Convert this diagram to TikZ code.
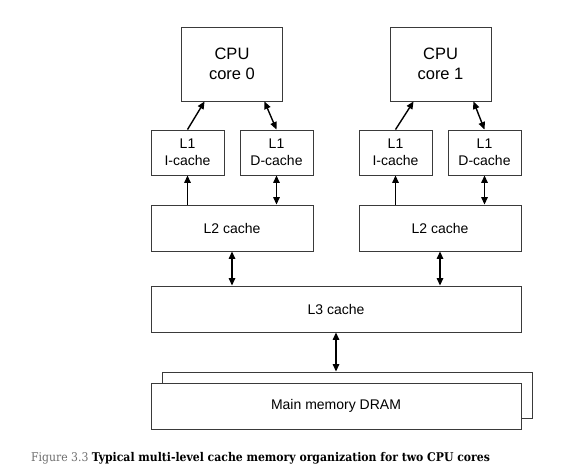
\documentclass[tikz,border=0pt]{standalone}
\usepackage{fontspec}
\setmainfont{Liberation Sans}
\newfontfamily\capfont{DejaVu Serif}
\usetikzlibrary{arrows.meta,calc}
\definecolor{boxline}{HTML}{3A3A3A}
\definecolor{figgray}{HTML}{6E6E6E}
\tikzset{
  box/.style={draw=boxline,line width=0.9pt,fill=white,inner sep=0pt,align=center,font=\fontsize{14}{16.5}\selectfont},
  cpubox/.style={box,minimum width=101pt,minimum height=74pt,font=\fontsize{16.5}{19.5}\selectfont},
  l1box/.style={box,minimum width=73pt,minimum height=45pt},
  l2box/.style={box,minimum width=162pt,minimum height=46pt},
  bigbox/.style={box,minimum width=370pt,minimum height=46pt},
  conn/.style={line width=1.4pt,black},
  one/.style={conn,-{Triangle[length=7.5pt,width=6.5pt]}},
  two/.style={conn,{Triangle[length=7.5pt,width=6.5pt]}-{Triangle[length=7.5pt,width=6.5pt]}}
}
\begin{document}
\begin{tikzpicture}[x=1pt,y=-1pt]
\useasboundingbox (0,0) rectangle (561,465);
% CPU cores
\node[cpubox] (cpu0) at (232,64) {CPU\\core 0};
\node[cpubox] (cpu1) at (440.5,64) {CPU\\core 1};
% L1 caches
\node[l1box] (i0) at (187.5,152.5) {L1\\I-cache};
\node[l1box] (d0) at (276.5,152.5) {L1\\D-cache};
\node[l1box] (i1) at (395.5,152.5) {L1\\I-cache};
\node[l1box] (d1) at (484.5,152.5) {L1\\D-cache};
% L2 caches
\node[l2box] (l2a) at (232,228) {L2 cache};
\node[l2box] (l2b) at (440,228) {L2 cache};
% L3
\node[bigbox] (l3) at (336,309) {L3 cache};
% main memory
\node[bigbox] (memback) at (347.5,395) {};
\node[bigbox] (mem) at (336,406) {Main memory DRAM};
% connectors core 0
\draw[one] (i0.north) -- ([xshift=23.5pt]cpu0.south west);
\draw[two] ([xshift=-18.5pt]cpu0.south east) -- (d0.north);
\draw[one] (l2a.north -| i0.south) -- (i0.south);
\draw[two] (d0.south) -- (l2a.north -| d0.south);
% connectors core 1
\draw[one] (i1.north) -- ([xshift=24pt]cpu1.south west);
\draw[two] ([xshift=-18pt]cpu1.south east) -- (d1.north);
\draw[one] (l2b.north -| i1.south) -- (i1.south);
\draw[two] (d1.south) -- (l2b.north -| d1.south);
% L2 to L3
\draw[two] (l2a.south) -- (l3.north -| l2a.south);
\draw[two] (l2b.south) -- (l3.north -| l2b.south);
% L3 to memory
\draw[two] (l3.south) -- (memback.north -| l3.south);
% caption
\node[anchor=base west,inner sep=0pt,font=\capfont\fontsize{12}{15}\selectfont] (cap) at (31,461)
  {\scalebox{0.905}[1]{\textcolor{figgray}{Figure 3.3} \textbf{Typical multi-level cache memory organization for two CPU cores}}};
\end{tikzpicture}
\end{document}
